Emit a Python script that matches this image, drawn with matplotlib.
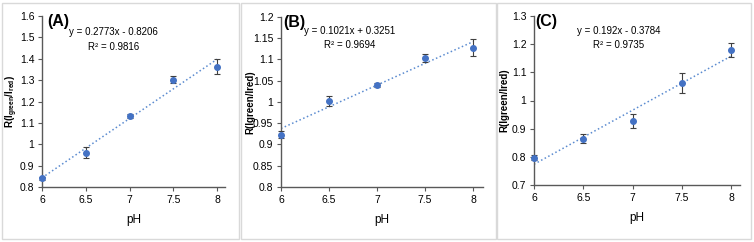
import numpy as np
import matplotlib
matplotlib.use("Agg")
import matplotlib.pyplot as plt
from matplotlib.patches import Rectangle

plt.rcParams['font.family'] = ['Liberation Sans Narrow', 'Liberation Sans', 'DejaVu Sans']
plt.rcParams['mathtext.default'] = 'regular'

# -------------------------------------------------------------------
# Datos
# -------------------------------------------------------------------
ph = [6, 6.5, 7, 7.5, 8]

ratio_a = [0.840, 0.960, 1.133, 1.302, 1.362]
err_a   = [0.008, 0.025, 0.010, 0.015, 0.035]
ratio_b = [0.923, 1.003, 1.040, 1.104, 1.128]
err_b   = [0.008, 0.012, 0.005, 0.010, 0.020]
ratio_c = [0.797, 0.864, 0.927, 1.061, 1.180]
err_c   = [0.008, 0.016, 0.024, 0.035, 0.025]

fits   = [(0.2773, -0.8206), (0.1021, 0.3251), (0.192, -0.3784)]
eq_txt = ["y = 0.2773x - 0.8206", "y = 0.1021x + 0.3251", "y = 0.192x - 0.3784"]
r2_txt = ["R² = 0.9816", "R² = 0.9694", "R² = 0.9735"]
labels = ["(A)", "(B)", "(C)"]
ylabels = [r"R(I$_{green}$/I$_{red}$)", "R(Igreen/Ired)", "R(Igreen/Ired)"]
ylims  = [(0.8, 1.6), (0.8, 1.2), (0.7, 1.3)]
ysteps = [0.1, 0.05, 0.1]

# -------------------------------------------------------------------
# Figura
# -------------------------------------------------------------------
W, H = 754, 242
fig = plt.figure(figsize=(W / 100, H / 100), dpi=100)

# cajas grises de cada panel (px)
boxes = [(2, 3, 237, 236), (241, 3, 255, 236), (497, 3, 254, 236)]
for x0, y0, w, h in boxes:
    fig.patches.append(Rectangle((x0 / W, 1 - (y0 + h) / H), w / W, h / H,
                                 transform=fig.transFigure, fill=False,
                                 edgecolor='#d9d9d9', lw=1.0))

# posición de ejes en px: izquierda, derecha, arriba, abajo, xmax
axes_px = [(42, 225, 16, 187, 8.09), (281, 483, 17, 187, 8.104), (534, 740, 16, 185, 8.09)]
ylab_x  = [-0.118, -0.128, -0.12]
lab_pos = [(0.03, 0.965), (0.01, 0.97), (0.005, 0.97)]
eq_pos  = [(0.39, 0.905, 0.82), (0.34, 0.915, 0.835), (0.41, 0.91, 0.83)]

datasets = [(ratio_a, err_a), (ratio_b, err_b), (ratio_c, err_c)]

for i, (ys, es) in enumerate(datasets):
    l, r, t, b, xmax = axes_px[i]
    ax = fig.add_axes([l / W, 1 - b / H, (r - l) / W, (b - t) / H])

    # recta de ajuste punteada
    m, c = fits[i]
    xf = np.array([6, 8])
    ax.plot(xf, m * xf + c, ls=':', color='#5b8bd0', lw=1.1, zorder=2)

    ax.errorbar(ph, ys, yerr=es, fmt='o', ms=4, color='#4472c4',
                ecolor='#404040', elinewidth=0.8, capsize=2, capthick=0.8,
                zorder=3, clip_on=False)

    ax.set_xlim(6, xmax)
    ax.set_ylim(*ylims[i])
    ax.set_xticks(ph)
    ax.set_xticklabels(['6', '6.5', '7', '7.5', '8'])
    lo, hi = ylims[i]
    yt = np.round(np.arange(lo, hi + 1e-9, ysteps[i]), 2)
    ax.set_yticks(yt)
    ax.set_yticklabels([f"{v:g}" for v in yt])

    for s in ['top', 'right']:
        ax.spines[s].set_visible(False)
    for s in ['left', 'bottom']:
        ax.spines[s].set_color('#595959')
        ax.spines[s].set_linewidth(1.0)
    ax.tick_params(axis='both', labelsize=7.5, length=3, width=0.8, color='#595959',
                   pad=2.5)

    ax.set_xlabel('pH', fontsize=8.5, labelpad=7)
    ax.set_ylabel(ylabels[i], fontsize=7, fontweight='bold')
    ax.yaxis.set_label_coords(ylab_x[i], 0.5)

    lx, ly = lab_pos[i]
    ax.text(lx, ly, labels[i], transform=ax.transAxes, fontsize=11.5,
            fontweight='bold', ha='left', va='center')
    ex, ey, ry = eq_pos[i]
    ax.text(ex, ey, eq_txt[i], transform=ax.transAxes, fontsize=7,
            ha='center', va='center')
    ax.text(ex, ry, r2_txt[i], transform=ax.transAxes, fontsize=7,
            ha='center', va='center')

fig.savefig('out.png', dpi=100)
